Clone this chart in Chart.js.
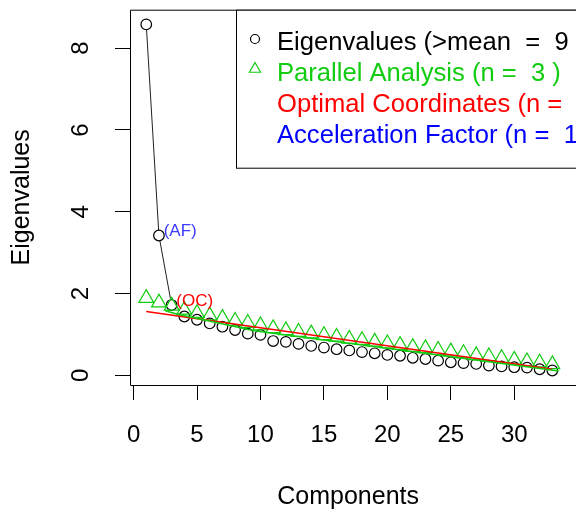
<!DOCTYPE html>
<html>
<head>
<meta charset="utf-8">
<script src="https://cdn.jsdelivr.net/npm/chart.js@4"></script>
<style>
  html, body { margin: 0; padding: 0; background: #fff; }
  #wrap { width: 576px; height: 516px; }
</style>
</head>
<body>
<div id="wrap"><canvas id="screePlot" width="576" height="516"></canvas></div>
<script>
// values
const components = [1, 2, 3, 4, 5, 6, 7, 8, 9, 10, 11, 12, 13, 14, 15, 16, 17,
  18, 19, 20, 21, 22, 23, 24, 25, 26, 27, 28, 29, 30, 31, 32, 33];
const eigenvalues = [8.58, 3.42, 1.72, 1.44, 1.36, 1.27, 1.19, 1.11, 1.02, 0.99,
  0.84, 0.82, 0.77, 0.72, 0.68, 0.64, 0.61, 0.57, 0.54, 0.50, 0.48, 0.43, 0.40,
  0.36, 0.32, 0.30, 0.28, 0.24, 0.22, 0.20, 0.19, 0.15, 0.12];
const parallelAnalysis = [1.89, 1.78, 1.70, 1.60, 1.52, 1.46, 1.40, 1.33, 1.28,
  1.22, 1.15, 1.10, 1.06, 1.02, 0.98, 0.94, 0.89, 0.86, 0.82, 0.78, 0.74, 0.69,
  0.66, 0.62, 0.58, 0.54, 0.49, 0.46, 0.42, 0.38, 0.34, 0.31, 0.27];
const ocLineX = [1, 33];
const ocLineY = [1.56, 0.15];
const greenLineX = [2.5, 3.4, 9.5, 21, 33.5];
const greenLineY = [1.58, 1.50, 1.09, 0.62, 0.11];
const xTicks = [0, 5, 10, 15, 20, 25, 30];
const yTicks = [0, 2, 4, 6, 8];
const legendLabels = [
  'Eigenvalues (>mean  =  9 )',
  'Parallel Analysis (n =  3 )',
  'Optimal Coordinates (n =  3 )',
  'Acceleration Factor (n =  1 )'
];
const ocPoint = 3;
const afPoint = 2;

const GREEN = '#11cc11';
const RED = '#ff0000';
const BLUE = '#0000ff';
const FONT = "'Liberation Sans', Arial, sans-serif";

const pts = (xs, ys) => xs.map((x, i) => ({x: x, y: ys[i]}));

// box, legend and the (OC)/(AF) notes
const screeExtras = {
  id: 'screeExtras',
  afterDatasetsDraw(chart) {
    const {ctx, chartArea: a, scales: {x, y}} = chart;
    ctx.save();

    ctx.strokeStyle = '#000';
    ctx.lineWidth = 1;
    ctx.beginPath();
    ctx.moveTo(a.right + 10, a.top + 0.5);
    ctx.lineTo(a.left + 0.5, a.top + 0.5);
    ctx.lineTo(a.left + 0.5, a.bottom + 0.5);
    ctx.lineTo(a.right + 10, a.bottom + 0.5);
    ctx.stroke();

    ctx.font = '17px ' + FONT;
    ctx.textAlign = 'left';
    ctx.textBaseline = 'alphabetic';
    ctx.fillStyle = RED;
    ctx.fillText(' (OC)', x.getPixelForValue(ocPoint), y.getPixelForValue(eigenvalues[ocPoint - 1]) + 1);
    ctx.fillStyle = '#3b3bff';
    ctx.fillText(' (AF)', x.getPixelForValue(afPoint), y.getPixelForValue(eigenvalues[afPoint - 1]) + 1);

    // legend
    const lx = 236.5, ly = a.top + 0.5;
    ctx.fillStyle = '#fff';
    ctx.fillRect(lx, ly, 400, 158);
    ctx.strokeRect(lx, ly, 400, 158);
    const colors = ['#000', GREEN, RED, BLUE];
    ctx.font = '25.6px ' + FONT;
    legendLabels.forEach((t, i) => {
      ctx.fillStyle = colors[i];
      ctx.fillText(t, 277, 50 + 31 * i);
    });
    ctx.lineWidth = 1.2;
    ctx.strokeStyle = '#000';
    ctx.beginPath();
    ctx.arc(255, 39, 4.5, 0, Math.PI * 2);
    ctx.stroke();
    ctx.strokeStyle = GREEN;
    ctx.fillStyle = 'rgba(0,0,0,0)';
    Chart.helpers.drawPoint(ctx, {pointStyle: 'triangle', radius: 6.5, borderWidth: 1.2}, 255, 69);
    ctx.restore();
  }
};

new Chart('screePlot', {
  type: 'scatter',
  data: {
    datasets: [{
      data: pts(components, eigenvalues),
      showLine: true,
      borderColor: '#000',
      borderWidth: 1,
      segment: {
        borderColor: c => c.p0DataIndex < 2 ? '#222' : 'rgba(0,0,0,0)'
      },
      pointStyle: 'circle',
      pointRadius: 5.3,
      pointHitRadius: 0,
      pointBorderColor: '#000',
      pointBackgroundColor: '#fff',
      pointBorderWidth: 1.2,
      order: 4
    }, {
      data: pts(components, parallelAnalysis),
      showLine: false,
      pointStyle: 'triangle',
      pointRadius: 8.5,
      pointBorderColor: GREEN,
      pointBackgroundColor: 'rgba(0,0,0,0)',
      pointBorderWidth: 1.2,
      order: 3
    }, {
      data: pts(ocLineX, ocLineY),
      showLine: true,
      borderColor: RED,
      borderWidth: 1.5,
      pointRadius: 0,
      order: 2
    }, {
      data: pts(greenLineX, greenLineY),
      showLine: true,
      borderColor: GREEN,
      borderWidth: 1.5,
      pointRadius: 0,
      order: 1
    }]
  },
  options: {
    responsive: false,
    animation: false,
    devicePixelRatio: 1,
    layout: {padding: {top: 6, left: 0, right: 0, bottom: 0}},
    plugins: {legend: {display: false}, tooltip: {enabled: false}},
    scales: {
      x: {
        type: 'linear',
        min: -0.28,
        max: 34.1,
        afterBuildTicks: s => { s.ticks = xTicks.map(v => ({value: v})); },
        afterFit: s => { s.height = 131; s.paddingLeft = 0; s.paddingRight = 0; },
        grid: {drawOnChartArea: false, drawTicks: true, tickLength: 15, color: '#000'},
        border: {display: false},
        ticks: {color: '#000', padding: 21, maxRotation: 0, font: {family: FONT, size: 24}},
        title: {display: true, text: 'Components', color: '#000',
          padding: {top: 0, bottom: 4}, font: {family: FONT, size: 25}}
      },
      y: {
        type: 'linear',
        min: -0.235,
        max: 8.94,
        afterBuildTicks: s => { s.ticks = yTicks.map(v => ({value: v})); },
        afterFit: s => { s.width = 130; s.paddingTop = 0; s.paddingBottom = 0; },
        grid: {drawOnChartArea: false, drawTicks: true, tickLength: 15, color: '#000'},
        border: {display: false},
        ticks: {color: '#000', padding: 27, minRotation: 90, maxRotation: 90,
          crossAlign: 'center', font: {family: FONT, size: 24}},
        title: {display: true, text: 'Eigenvalues', color: '#000',
          padding: {top: 7, bottom: 0}, font: {family: FONT, size: 25}}
      }
    }
  },
  plugins: [screeExtras]
});
</script>
</body>
</html>
